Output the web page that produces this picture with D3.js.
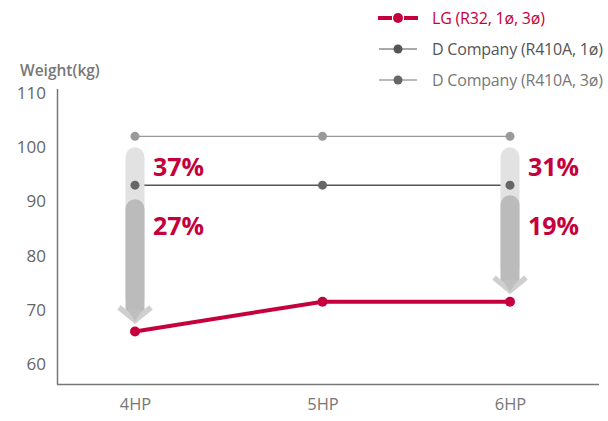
<!DOCTYPE html>
<html><head><meta charset="utf-8">
<script src="https://cdn.jsdelivr.net/npm/d3@7"></script>
<style>body{margin:0;background:#fff}svg{display:block;font-family:"Open Sans",sans-serif}</style>
</head><body><svg id="c" width="608" height="421"></svg>
<script>
const categories = ["4HP","5HP","6HP"];
const lgValues = [66, 71.5, 71.5];
const d1Values = [93, 93, 93];
const d3Values = [102, 102, 102];
const yTicks = [60,70,80,90,100,110];
const seriesNames = ["LG (R32, 1ø, 3ø)","D Company (R410A, 1ø)","D Company (R410A, 3ø)"];
const arrowCats = ["4HP","6HP"];
const pct3 = ["37%","31%"];
const pct1 = ["27%","19%"];

const red = "#c5003c";
const svg = d3.select("#c");
const x = d3.scalePoint().domain(categories).range([135,510]);
const y = d3.scaleLinear().domain([60,110]).range([364,93]);

// axes
svg.append("line").attr("x1",57.5).attr("x2",57.5).attr("y1",89).attr("y2",384.5).attr("stroke","#777").attr("stroke-width",1.5);
svg.append("line").attr("x1",57).attr("x2",599).attr("y1",384.5).attr("y2",384.5).attr("stroke","#777").attr("stroke-width",1.5);
const ya = svg.append("g").attr("transform","translate(46,0)").call(d3.axisLeft(y).tickValues(yTicks).tickSize(0).tickPadding(0));
ya.select(".domain").remove();
ya.selectAll("text").attr("font-size",17).attr("fill","#666").attr("font-family","Open Sans, sans-serif");
const xa = svg.append("g").attr("transform","translate(0,398)").call(d3.axisBottom(x).tickSize(0).tickPadding(0));
xa.select(".domain").remove();
xa.selectAll("text").attr("font-size",16.5).attr("fill","#777").attr("font-family","Open Sans, sans-serif");
svg.append("text").attr("x",20).attr("y",76).text("Weight(kg)").attr("font-size",15.5).attr("fill","#777").attr("font-weight",600);

// lines
const line = d3.line().x((d,i)=>x(categories[i])).y(d=>y(d));
svg.append("path").attr("d",line(d3Values)).attr("fill","none").attr("stroke","#999").attr("stroke-width",1.2);
svg.append("path").attr("d",line(d1Values)).attr("fill","none").attr("stroke","#555").attr("stroke-width",1.5);
svg.append("path").attr("d",line(lgValues)).attr("fill","none").attr("stroke",red).attr("stroke-width",4);

// arrows
arrowCats.forEach((c,k)=>{
  const i = categories.indexOf(c);
  const cx = x(c);
  const top = y(d3Values[i]) + 11;
  const mid = y(d1Values[i]) + 14 - k*4;
  const tip = y(lgValues[i]) - 9;
  const w = 19;
  const g = svg.append("g");
  g.append("rect").attr("x",cx-w/2).attr("y",top).attr("width",w).attr("height",tip-15-top).attr("rx",9.5).attr("fill","#e2e2e2");
  g.append("path").attr("d",`M${cx-w/2},${mid+9.5} A9.5,9.5 0 0 1 ${cx+w/2},${mid+9.5} L${cx+w/2},${tip-10} L${cx},${tip-2} L${cx-w/2},${tip-10} Z`).attr("fill","#bbb");
  g.append("path").attr("d",`M${cx-16},${tip-15} L${cx},${tip-2} L${cx+16},${tip-15}`).attr("fill","none").attr("stroke","#cfcfcf").attr("stroke-width",5.5).attr("stroke-linejoin","miter");
  g.append("path").attr("d",`M${cx-w/2+2},${tip-13} L${cx},${tip-1} L${cx+w/2-2},${tip-13} Z`).attr("fill","#bfbfbf");
  svg.append("text").attr("x",cx+18).attr("y",y(d1Values[i])-9).text(pct3[k]).attr("font-size",25).attr("font-weight",700).attr("fill",red);
  svg.append("text").attr("x",cx+18).attr("y",y(d1Values[i])+50).text(pct1[k]).attr("font-size",25).attr("font-weight",700).attr("fill",red);
});

// dots
const dots = (vals,col,r)=>svg.append("g").selectAll("circle").data(vals).join("circle").attr("cx",(d,i)=>x(categories[i])).attr("cy",d=>y(d)).attr("r",r).attr("fill",col);
dots(d3Values,"#9a9a9a",4.5);
dots(d1Values,"#666",4.5);
dots(lgValues,red,5);

// legend
const leg = [{c:red,w:4,r:5,t:red},{c:"#555",w:1.2,r:4.5,t:"#555"},{c:"#777",w:1.2,r:4.5,t:"#777"}];
leg.forEach((L,i)=>{
  const yy = 18 + i*31;
  const g = svg.append("g");
  if(i===0){
    g.append("line").attr("x1",378).attr("x2",392).attr("y1",yy).attr("y2",yy).attr("stroke",L.c).attr("stroke-width",L.w);
    g.append("line").attr("x1",404).attr("x2",418).attr("y1",yy).attr("y2",yy).attr("stroke",L.c).attr("stroke-width",L.w);
  } else {
    g.append("line").attr("x1",379).attr("x2",417).attr("y1",yy).attr("y2",yy).attr("stroke",L.c).attr("stroke-width",L.w);
  }
  g.append("circle").attr("cx",398).attr("cy",yy).attr("r",L.r).attr("fill",i===0?red:(i===1?"#555":"#666"));
  g.append("text").attr("x",432).attr("y",yy).attr("dy","0.35em").text(seriesNames[i]).attr("font-size",16).attr("fill",L.t).attr("letter-spacing",-0.2);
});
</script></body></html>
